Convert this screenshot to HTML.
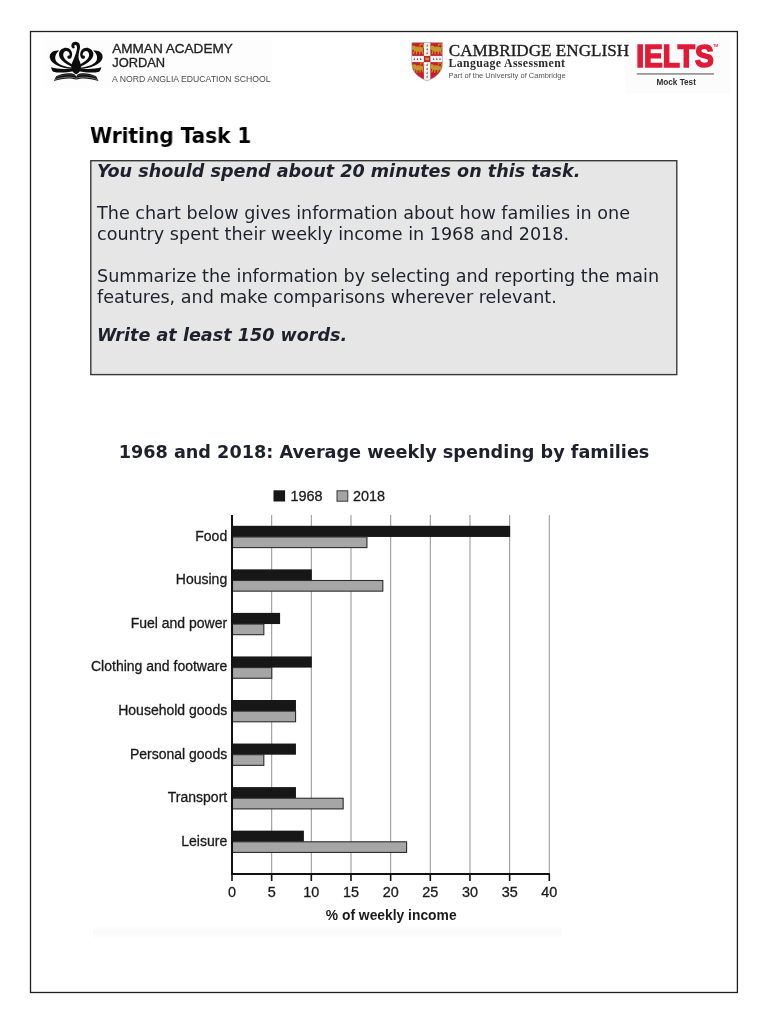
<!DOCTYPE html>
<html lang="en">
<head>
<meta charset="utf-8">
<title>Writing Task 1</title>
<style>
  html, body { margin: 0; padding: 0; background: #ffffff; }
  body { width: 768px; height: 1024px; position: relative; overflow: hidden;
         font-family: "DejaVu Sans", "Liberation Sans", sans-serif; color: #1d212c; }
  .abs { position: absolute; white-space: nowrap; will-change: transform; }
  #frame { position: absolute; left: 30px; top: 31px; width: 706px; height: 960px;
           border: 1px solid #1c1c1c; }
  #h1 { left: 90px; top: 123px; font-size: 21.4px; font-weight: bold; color: #000; line-height: 25px; transform: scaleX(0.937); transform-origin: 0 0; }
  #box { position: absolute; left: 90px; top: 160px; width: 586px; height: 213px;
         border: 1px solid #3a3a3a; background: #e6e6e6; }
  .t { font-size: 17.59px; line-height: 21px; left: 97.1px; }
  .bi { font-weight: bold; font-style: italic; }
  #ctitle { left: -0.5px; width: 768px; text-align: center; top: 441px; font-size: 17.65px; font-weight: bold; line-height: 22px; }
  #chart text { font-family: "Liberation Sans", sans-serif; }
</style>
</head>
<body>
<svg class="abs" style="left:0;top:0" width="768" height="1024" viewBox="0 0 768 1024"><rect x="30.5" y="31.5" width="706.9" height="961" fill="none" stroke="#202020" stroke-width="1.3"/><rect x="90.8" y="160.7" width="586" height="213.9" fill="#e6e6e6" stroke="#383838" stroke-width="1.4"/></svg>

<!-- HEADER LOGOS -->
<svg id="hdr" class="abs" style="left:0;top:0" width="768" height="110" viewBox="0 0 768 110">
<rect x="44" y="38" width="228" height="50" fill="#fdfdfd"/>
<rect x="625" y="37" width="106" height="56" fill="#fcfcfc"/>
<g transform="translate(44 36) scale(0.09115)" fill="#0d0d0d" stroke="none">

<path d="M342 352 C260 322 158 262 164 194 C170 142 228 116 268 134 C304 150 318 198 302 232 C292 256 260 258 256 232 C254 218 268 210 280 214 C286 194 276 170 254 166 C224 162 206 186 212 218 C218 262 292 304 342 334 Z"/>
<path d="M304 360 C200 356 84 318 64 242 C54 186 104 148 168 160 C132 188 114 226 128 266 C146 312 230 338 304 346 Z"/>
<path d="M76 344 C150 366 250 366 314 354 L322 386 C250 404 150 406 100 392 C88 380 82 362 76 344 Z"/>
<path d="M108 494 L134 442 C204 410 290 398 342 424 L353 446 L353 478 C292 456 200 462 108 494 Z"/>
<path d="M120 478 C204 450 292 442 350 464" fill="none" stroke="#c8c8c8" stroke-width="6"/>
<path d="M136 452 C210 424 290 414 342 436" fill="none" stroke="#8a8a8a" stroke-width="4"/>

<g transform="translate(706 0) scale(-1 1)">
<path d="M342 352 C260 322 158 262 164 194 C170 142 228 116 268 134 C304 150 318 198 302 232 C292 256 260 258 256 232 C254 218 268 210 280 214 C286 194 276 170 254 166 C224 162 206 186 212 218 C218 262 292 304 342 334 Z"/>
<path d="M304 360 C200 356 84 318 64 242 C54 186 104 148 168 160 C132 188 114 226 128 266 C146 312 230 338 304 346 Z"/>
<path d="M76 344 C150 366 250 366 314 354 L322 386 C250 404 150 406 100 392 C88 380 82 362 76 344 Z"/>
<path d="M108 494 L134 442 C204 410 290 398 342 424 L353 446 L353 478 C292 456 200 462 108 494 Z"/>
<path d="M120 478 C204 450 292 442 350 464" fill="none" stroke="#c8c8c8" stroke-width="6"/>
<path d="M136 452 C210 424 290 414 342 436" fill="none" stroke="#8a8a8a" stroke-width="4"/>
</g>
<path d="M353 420 C290 392 288 330 318 272 C334 236 350 196 358 160 C368 122 360 100 344 100 C332 100 328 112 338 128 C326 146 302 134 300 110 C298 80 320 64 348 64 C388 64 404 104 392 146 C384 180 374 214 382 254 C416 322 418 390 353 420 Z"/>
</g>
<g font-family="Liberation Sans, sans-serif">
<text x="112.2" y="53" font-size="12.4" fill="#222" stroke="#222" stroke-width="0.3" textLength="120.6" lengthAdjust="spacingAndGlyphs">AMMAN ACADEMY</text>
<text x="112.2" y="66.5" font-size="12.4" fill="#222" stroke="#222" stroke-width="0.3" textLength="53" lengthAdjust="spacingAndGlyphs">JORDAN</text>
<text x="112" y="81.8" font-size="8.4" fill="#4c4c4c" textLength="158.6" lengthAdjust="spacingAndGlyphs">A NORD ANGLIA EDUCATION SCHOOL</text>
</g>
<g id="shield">
<path d="M411.8 42.6 H442.4 V64 C442.4 72 436 77.5 427.1 81 C418.2 77.5 411.8 72 411.8 64 Z" fill="#c4202b"/>
<clipPath id="shc"><path d="M411.8 42.6 H442.4 V64 C442.4 72 436 77.5 427.1 81 C418.2 77.5 411.8 72 411.8 64 Z"/></clipPath>
<g clip-path="url(#shc)">
<rect x="423.9" y="42" width="6.5" height="40" fill="#f4f4f4"/>
<rect x="411" y="55.9" width="32" height="6.2" fill="#f4f4f4"/>
<rect x="423.9" y="55.9" width="6.5" height="6.2" fill="#bb2430"/>
<rect x="425.3" y="57.6" width="3.7" height="2.6" fill="#c9962c"/>
<g transform="translate(418.0 49.4) scale(1.3)" fill="#c29a2a" stroke="#c29a2a" stroke-width="0.9" stroke-linecap="round"><ellipse cx="0.2" cy="-0.2" rx="3.3" ry="1.5"/><circle cx="-3.4" cy="-1.2" r="1.3"/><path d="M-2.6 0.6 L-3.4 3.2 M-1 0.8 L-1.2 3.4 M1.6 0.8 L1.2 3.4 M3 0.4 L3.6 3.2" fill="none"/><path d="M3.2 -0.8 C4.8 -1.6 4.8 -3.8 3 -4.2 C1.6 -4.4 1 -3.4 1.8 -2.8" fill="none" stroke-width="0.8"/></g>
<g transform="translate(436.6 49.4) scale(1.3)" fill="#c29a2a" stroke="#c29a2a" stroke-width="0.9" stroke-linecap="round"><ellipse cx="0.2" cy="-0.2" rx="3.3" ry="1.5"/><circle cx="-3.4" cy="-1.2" r="1.3"/><path d="M-2.6 0.6 L-3.4 3.2 M-1 0.8 L-1.2 3.4 M1.6 0.8 L1.2 3.4 M3 0.4 L3.6 3.2" fill="none"/><path d="M3.2 -0.8 C4.8 -1.6 4.8 -3.8 3 -4.2 C1.6 -4.4 1 -3.4 1.8 -2.8" fill="none" stroke-width="0.8"/></g>
<g transform="translate(418.4 68.0) scale(1.25)" fill="#c29a2a" stroke="#c29a2a" stroke-width="0.9" stroke-linecap="round"><ellipse cx="0.2" cy="-0.2" rx="3.3" ry="1.5"/><circle cx="-3.4" cy="-1.2" r="1.3"/><path d="M-2.6 0.6 L-3.4 3.2 M-1 0.8 L-1.2 3.4 M1.6 0.8 L1.2 3.4 M3 0.4 L3.6 3.2" fill="none"/><path d="M3.2 -0.8 C4.8 -1.6 4.8 -3.8 3 -4.2 C1.6 -4.4 1 -3.4 1.8 -2.8" fill="none" stroke-width="0.8"/></g>
<g transform="translate(436.2 68.0) scale(1.25)" fill="#c29a2a" stroke="#c29a2a" stroke-width="0.9" stroke-linecap="round"><ellipse cx="0.2" cy="-0.2" rx="3.3" ry="1.5"/><circle cx="-3.4" cy="-1.2" r="1.3"/><path d="M-2.6 0.6 L-3.4 3.2 M-1 0.8 L-1.2 3.4 M1.6 0.8 L1.2 3.4 M3 0.4 L3.6 3.2" fill="none"/><path d="M3.2 -0.8 C4.8 -1.6 4.8 -3.8 3 -4.2 C1.6 -4.4 1 -3.4 1.8 -2.8" fill="none" stroke-width="0.8"/></g>
<path d="M427.15 44.0 L428.04999999999995 46.8 L427.15 46.2 L426.25 46.8 Z" fill="#4a4a4a"/>
<path d="M427.15 47.8 L428.04999999999995 50.599999999999994 L427.15 50.0 L426.25 50.599999999999994 Z" fill="#4a4a4a"/>
<path d="M427.15 51.6 L428.04999999999995 54.4 L427.15 53.800000000000004 L426.25 54.4 Z" fill="#4a4a4a"/>
<path d="M427.15 63.3 L428.04999999999995 66.1 L427.15 65.5 L426.25 66.1 Z" fill="#4a4a4a"/>
<path d="M427.15 67.3 L428.04999999999995 70.1 L427.15 69.5 L426.25 70.1 Z" fill="#4a4a4a"/>
<path d="M427.15 71.3 L428.04999999999995 74.1 L427.15 73.5 L426.25 74.1 Z" fill="#4a4a4a"/>
<path d="M427.15 75.1 L428.04999999999995 77.89999999999999 L427.15 77.3 L426.25 77.89999999999999 Z" fill="#4a4a4a"/>
<path d="M414.3 57.5 L415.2 60.3 L414.3 59.7 L413.40000000000003 60.3 Z" fill="#4a4a4a"/>
<path d="M417.5 57.5 L418.4 60.3 L417.5 59.7 L416.6 60.3 Z" fill="#4a4a4a"/>
<path d="M420.7 57.5 L421.59999999999997 60.3 L420.7 59.7 L419.8 60.3 Z" fill="#4a4a4a"/>
<path d="M433.6 57.5 L434.5 60.3 L433.6 59.7 L432.70000000000005 60.3 Z" fill="#4a4a4a"/>
<path d="M436.8 57.5 L437.7 60.3 L436.8 59.7 L435.90000000000003 60.3 Z" fill="#4a4a4a"/>
<path d="M440 57.5 L440.9 60.3 L440 59.7 L439.1 60.3 Z" fill="#4a4a4a"/>
</g>
<path d="M411.8 42.6 H442.4 V64 C442.4 72 436 77.5 427.1 81 C418.2 77.5 411.8 72 411.8 64 Z" fill="none" stroke="#b9b2b2" stroke-width="0.6"/>
</g>
<g font-family="Liberation Serif, serif">
<text x="448.8" y="56.3" font-size="17.3" fill="#1c1c1c" stroke="#1c1c1c" stroke-width="0.35" textLength="180.3" lengthAdjust="spacingAndGlyphs">CAMBRIDGE ENGLISH</text>
<text x="448.6" y="67.3" font-size="11.8" font-weight="bold" fill="#2a2a2a" textLength="116.4" lengthAdjust="spacing">Language Assessment</text>
</g>
<text x="448.6" y="78.4" font-family="Liberation Sans, sans-serif" font-size="7.8" fill="#555" textLength="117" lengthAdjust="spacingAndGlyphs">Part of the University of Cambridge</text>
<g font-family="Liberation Sans, sans-serif" font-weight="bold">
<text x="636.2" y="67.3" font-size="31.4" fill="#e11a37" stroke="#e11a37" stroke-width="1.7" stroke-linejoin="miter" textLength="77.6" lengthAdjust="spacingAndGlyphs">IELTS</text>
<text x="713.2" y="47.4" font-size="3.4" fill="#e11a37">TM</text>
<rect x="636.7" y="73.4" width="77.2" height="1.1" fill="#5c5c5c"/>
<text x="656.5" y="85.4" font-size="8.3" fill="#2c2c2c" textLength="39.4" lengthAdjust="spacingAndGlyphs">Mock Test</text>
</g>
</svg>
<!-- /HEADER LOGOS -->

<div id="h1" class="abs">Writing Task 1</div>
<div class="abs t bi" style="top:160.5px">You should spend about 20 minutes on this task.</div>
<div class="abs t" style="top:202.8px">The chart below gives information about how families in one</div>
<div class="abs t" style="top:223.7px">country spent their weekly income in 1968 and 2018.</div>
<div class="abs t" style="top:266.3px">Summarize the information by selecting and reporting the main</div>
<div class="abs t" style="top:287px">features, and make comparisons wherever relevant.</div>
<div class="abs t bi" style="top:325.2px">Write at least 150 words.</div>

<div id="ctitle" class="abs">1968 and 2018: Average weekly spending by families</div>

<!-- CHART -->
<svg id="chart" class="abs" style="left:0;top:0" width="768" height="1024" viewBox="0 0 768 1024">
<defs><linearGradient id="band" x1="0" y1="0" x2="0" y2="1"><stop offset="0" stop-color="#fdfdfd"/><stop offset="0.5" stop-color="#f9f9f9"/><stop offset="1" stop-color="#fefefe"/></linearGradient></defs>
<rect x="93" y="927" width="469" height="11" fill="url(#band)"/>
<rect x="273.5" y="490.3" width="11.6" height="11.2" fill="#161616"/>
<text x="290.5" y="501" font-size="14.4" fill="#1a1a1a" stroke="#1a1a1a" stroke-width="0.3">1968</text>
<rect x="337" y="490.8" width="10.8" height="10.4" fill="#a4a4a4" stroke="#3a3a3a" stroke-width="1"/>
<text x="353" y="501" font-size="14.4" fill="#1a1a1a" stroke="#1a1a1a" stroke-width="0.3">2018</text>
<line x1="271.66" y1="515.0" x2="271.66" y2="874.0" stroke="#9c9c9c" stroke-width="1.1"/>
<line x1="311.32" y1="515.0" x2="311.32" y2="874.0" stroke="#9c9c9c" stroke-width="1.1"/>
<line x1="350.99" y1="515.0" x2="350.99" y2="874.0" stroke="#9c9c9c" stroke-width="1.1"/>
<line x1="390.65" y1="515.0" x2="390.65" y2="874.0" stroke="#9c9c9c" stroke-width="1.1"/>
<line x1="430.31" y1="515.0" x2="430.31" y2="874.0" stroke="#9c9c9c" stroke-width="1.1"/>
<line x1="469.97" y1="515.0" x2="469.97" y2="874.0" stroke="#9c9c9c" stroke-width="1.1"/>
<line x1="509.64" y1="515.0" x2="509.64" y2="874.0" stroke="#9c9c9c" stroke-width="1.1"/>
<line x1="549.30" y1="515.0" x2="549.30" y2="874.0" stroke="#9c9c9c" stroke-width="1.1"/>
<rect x="232.0" y="525.80" width="278.14" height="11.15" fill="#171717"/>
<rect x="232.5" y="536.95" width="134.45" height="10.65" fill="#a6a6a6" stroke="#2c2c2c" stroke-width="1.1"/>
<text x="227.2" y="540.80" font-size="14" text-anchor="end" fill="#1a1a1a" stroke="#1a1a1a" stroke-width="0.3">Food</text>
<rect x="232.0" y="569.35" width="79.82" height="11.15" fill="#171717"/>
<rect x="232.5" y="580.50" width="150.32" height="10.65" fill="#a6a6a6" stroke="#2c2c2c" stroke-width="1.1"/>
<text x="227.2" y="584.35" font-size="14" text-anchor="end" fill="#1a1a1a" stroke="#1a1a1a" stroke-width="0.3">Housing</text>
<rect x="232.0" y="612.90" width="48.09" height="11.15" fill="#171717"/>
<rect x="232.5" y="624.05" width="31.33" height="10.65" fill="#a6a6a6" stroke="#2c2c2c" stroke-width="1.1"/>
<text x="227.2" y="627.90" font-size="14" text-anchor="end" fill="#1a1a1a" stroke="#1a1a1a" stroke-width="0.3">Fuel and power</text>
<rect x="232.0" y="656.45" width="79.82" height="11.15" fill="#171717"/>
<rect x="232.5" y="667.60" width="39.26" height="10.65" fill="#a6a6a6" stroke="#2c2c2c" stroke-width="1.1"/>
<text x="227.2" y="671.45" font-size="14" text-anchor="end" fill="#1a1a1a" stroke="#1a1a1a" stroke-width="0.3">Clothing and footware</text>
<rect x="232.0" y="700.00" width="63.96" height="11.15" fill="#171717"/>
<rect x="232.5" y="711.15" width="63.06" height="10.65" fill="#a6a6a6" stroke="#2c2c2c" stroke-width="1.1"/>
<text x="227.2" y="715.00" font-size="14" text-anchor="end" fill="#1a1a1a" stroke="#1a1a1a" stroke-width="0.3">Household goods</text>
<rect x="232.0" y="743.55" width="63.96" height="11.15" fill="#171717"/>
<rect x="232.5" y="754.70" width="31.33" height="10.65" fill="#a6a6a6" stroke="#2c2c2c" stroke-width="1.1"/>
<text x="227.2" y="758.55" font-size="14" text-anchor="end" fill="#1a1a1a" stroke="#1a1a1a" stroke-width="0.3">Personal goods</text>
<rect x="232.0" y="787.10" width="63.96" height="11.15" fill="#171717"/>
<rect x="232.5" y="798.25" width="110.65" height="10.65" fill="#a6a6a6" stroke="#2c2c2c" stroke-width="1.1"/>
<text x="227.2" y="802.10" font-size="14" text-anchor="end" fill="#1a1a1a" stroke="#1a1a1a" stroke-width="0.3">Transport</text>
<rect x="232.0" y="830.65" width="71.89" height="11.15" fill="#171717"/>
<rect x="232.5" y="841.80" width="174.11" height="10.65" fill="#a6a6a6" stroke="#2c2c2c" stroke-width="1.1"/>
<text x="227.2" y="845.65" font-size="14" text-anchor="end" fill="#1a1a1a" stroke="#1a1a1a" stroke-width="0.3">Leisure</text>
<line x1="232.0" y1="515.0" x2="232.0" y2="875.0" stroke="#111" stroke-width="2"/>
<line x1="231.1" y1="874.0" x2="549.90" y2="874.0" stroke="#111" stroke-width="1.8"/>
<line x1="232.00" y1="874.0" x2="232.00" y2="881.0" stroke="#111" stroke-width="1.6"/>
<text x="232.00" y="897" font-size="14.4" text-anchor="middle" fill="#1a1a1a" stroke="#1a1a1a" stroke-width="0.3">0</text>
<line x1="271.66" y1="874.0" x2="271.66" y2="881.0" stroke="#111" stroke-width="1.6"/>
<text x="271.66" y="897" font-size="14.4" text-anchor="middle" fill="#1a1a1a" stroke="#1a1a1a" stroke-width="0.3">5</text>
<line x1="311.32" y1="874.0" x2="311.32" y2="881.0" stroke="#111" stroke-width="1.6"/>
<text x="311.32" y="897" font-size="14.4" text-anchor="middle" fill="#1a1a1a" stroke="#1a1a1a" stroke-width="0.3">10</text>
<line x1="350.99" y1="874.0" x2="350.99" y2="881.0" stroke="#111" stroke-width="1.6"/>
<text x="350.99" y="897" font-size="14.4" text-anchor="middle" fill="#1a1a1a" stroke="#1a1a1a" stroke-width="0.3">15</text>
<line x1="390.65" y1="874.0" x2="390.65" y2="881.0" stroke="#111" stroke-width="1.6"/>
<text x="390.65" y="897" font-size="14.4" text-anchor="middle" fill="#1a1a1a" stroke="#1a1a1a" stroke-width="0.3">20</text>
<line x1="430.31" y1="874.0" x2="430.31" y2="881.0" stroke="#111" stroke-width="1.6"/>
<text x="430.31" y="897" font-size="14.4" text-anchor="middle" fill="#1a1a1a" stroke="#1a1a1a" stroke-width="0.3">25</text>
<line x1="469.97" y1="874.0" x2="469.97" y2="881.0" stroke="#111" stroke-width="1.6"/>
<text x="469.97" y="897" font-size="14.4" text-anchor="middle" fill="#1a1a1a" stroke="#1a1a1a" stroke-width="0.3">30</text>
<line x1="509.64" y1="874.0" x2="509.64" y2="881.0" stroke="#111" stroke-width="1.6"/>
<text x="509.64" y="897" font-size="14.4" text-anchor="middle" fill="#1a1a1a" stroke="#1a1a1a" stroke-width="0.3">35</text>
<line x1="549.30" y1="874.0" x2="549.30" y2="881.0" stroke="#111" stroke-width="1.6"/>
<text x="549.30" y="897" font-size="14.4" text-anchor="middle" fill="#1a1a1a" stroke="#1a1a1a" stroke-width="0.3">40</text>
<text x="391.2" y="919.8" font-size="13.85" font-weight="bold" text-anchor="middle" fill="#1a1a1a">% of weekly income</text>
</svg>
<!-- /CHART -->
</body>
</html>
